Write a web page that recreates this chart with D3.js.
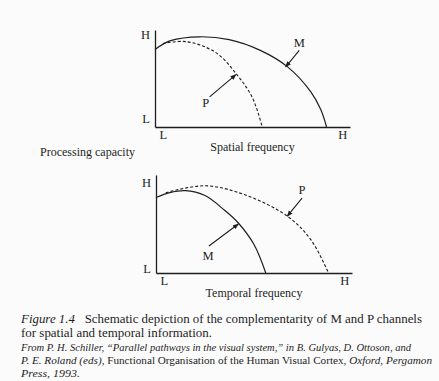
<!DOCTYPE html>
<html>
<head>
<meta charset="utf-8">
<script src="https://cdn.jsdelivr.net/npm/d3@7"></script>
<style>
  body { margin: 0; background: #fbfbfb; }
  svg { display: block; }
  text { font-family: "Liberation Serif", "Times New Roman", serif; fill: #1e1e1e; }
</style>
</head>
<body>
<div id="main"></div>
<script>
// Curves, in 0..100 units of each axis (x = frequency, y = capacity)
const spatialM = [[0, 80], [8, 89], [23, 93], [38, 90], [54, 79], [68, 62], [80, 36], [85, 18], [88, 0]];
const spatialP = [[4, 86], [16, 88], [31, 77], [42, 54], [50, 30], [55, 0]];
const temporalM = [[0, 77], [7, 82], [15, 84], [25, 79], [35, 64], [42, 51], [50, 29], [56, 0]];
const temporalP = [[5, 82], [25, 89], [45, 80], [67, 58], [79, 34], [88, 0]];

// Tick labels: [value, label]
const spatialYTicks = [[9, 'L'], [95, 'H']];
const temporalYTicks = [[5, 'L'], [92, 'H']];
const xTicks = [[4, 'L'], [96, 'H']];

// Arrows: [label, labelX, labelY, fromX, fromY, toX, toY]
const spatialNotes = [['M', 74, 87, 74, 79, 67, 62], ['P', 26, 25, 28, 31, 41.5, 54]];
const temporalNotes = [['M', 26.5, 18, 27, 27.5, 42, 50], ['P', 74.5, 85, 74.5, 76.5, 67, 58]];

const W = 439, H = 381;
const svg = d3.select('#main').append('svg').attr('width', W).attr('height', H);

svg.append('defs').append('marker')
  .attr('id', 'arr')
  .attr('viewBox', '0 0 10 10')
  .attr('refX', 9).attr('refY', 5)
  .attr('markerWidth', 6).attr('markerHeight', 6)
  .attr('markerUnits', 'userSpaceOnUse')
  .attr('orient', 'auto')
  .append('path').attr('d', 'M0,1 L10,5 L0,9 Z').attr('fill', '#1e1e1e');

function panel(left, top, w, h, solid, dashed, yTicks, notes, title) {
  const g = svg.append('g').attr('transform', `translate(${left},${top})`);
  const x = d3.scaleLinear().domain([0, 100]).range([0, w]);
  const y = d3.scaleLinear().domain([0, 100]).range([h, 0]);

  const yAxis = d3.axisLeft(y).tickSizeInner(0).tickSizeOuter(0).tickPadding(5)
    .tickValues(yTicks.map(d => d[0]))
    .tickFormat(v => yTicks.find(d => d[0] === v)[1]);
  const xAxis = d3.axisBottom(x).tickSizeInner(0).tickSizeOuter(0).tickPadding(3)
    .tickValues(xTicks.map(d => d[0]))
    .tickFormat(v => xTicks.find(d => d[0] === v)[1]);

  [g.append('g').call(yAxis), g.append('g').attr('transform', `translate(0,${h})`).call(xAxis)]
    .forEach(a => {
      a.attr('font-family', null).attr('font-size', null);
      a.select('.domain').attr('stroke', '#1e1e1e').attr('stroke-width', 1.3);
      a.selectAll('text').style('font-size', '12.5px').attr('fill', '#1e1e1e');
    });

  const line = d3.line().x(d => x(d[0])).y(d => y(d[1])).curve(d3.curveCatmullRom.alpha(0.5));
  g.append('path').datum(solid).attr('d', line)
    .attr('fill', 'none').attr('stroke', '#1e1e1e').attr('stroke-width', 1.2);
  g.append('path').datum(dashed).attr('d', line)
    .attr('fill', 'none').attr('stroke', '#1e1e1e').attr('stroke-width', 1.1)
    .attr('stroke-dasharray', '3,2');

  notes.forEach(n => {
    g.append('line')
      .attr('x1', x(n[3])).attr('y1', y(n[4]))
      .attr('x2', x(n[5])).attr('y2', y(n[6]))
      .attr('stroke', '#1e1e1e').attr('stroke-width', 1.1)
      .attr('marker-end', 'url(#arr)');
    g.append('text').attr('x', x(n[1])).attr('y', y(n[2])).attr('dy', '0.35em')
      .attr('text-anchor', 'middle').style('font-size', '12.5px').text(n[0]);
  });

  g.append('text').attr('x', w / 2).attr('y', h + 24)
    .attr('text-anchor', 'middle').style('font-size', '12px').text(title);
  return g;
}

panel(155, 30, 195, 97, spatialM, spatialP, spatialYTicks, spatialNotes, 'Spatial frequency');
panel(156, 175, 196, 98, temporalM, temporalP, temporalYTicks, temporalNotes, 'Temporal frequency');

svg.append('text').attr('x', 40).attr('y', 156).style('font-size', '12px').text('Processing capacity');

// Caption: each line is a list of [text, italic]
const caption = [
  { y: 323, size: 12.8, width: 401, parts: [['Figure 1.4', true], ['\u2002 Schematic depiction of the complementarity of M and P channels', false]] },
  { y: 337, size: 12.8, width: 191, parts: [['for spatial and temporal information.', false]] },
  { y: 351, size: 10.8, width: 390, parts: [['From P. H. Schiller, \u201CParallel pathways in the visual system,\u201D in B. Gulyas, D. Ottoson, and', true]] },
  { y: 364, size: 10.8, width: 411, parts: [['P. E. Roland (eds), ', true], ['Functional Organisation of the Human Visual Cortex', false], [', Oxford, Pergamon', true]] },
  { y: 377, size: 10.8, width: 59, parts: [['Press, 1993.', true]] }
];

caption.forEach(c => {
  const t = svg.append('text').attr('x', 21).attr('y', c.y).style('font-size', c.size + 'px')
    .attr('xml:space', 'preserve');
  c.parts.forEach(p => t.append('tspan').style('font-style', p[1] ? 'italic' : 'normal').text(p[0]));
  t.attr('textLength', c.width).attr('lengthAdjust', 'spacingAndGlyphs');
});
</script>
</body>
</html>
